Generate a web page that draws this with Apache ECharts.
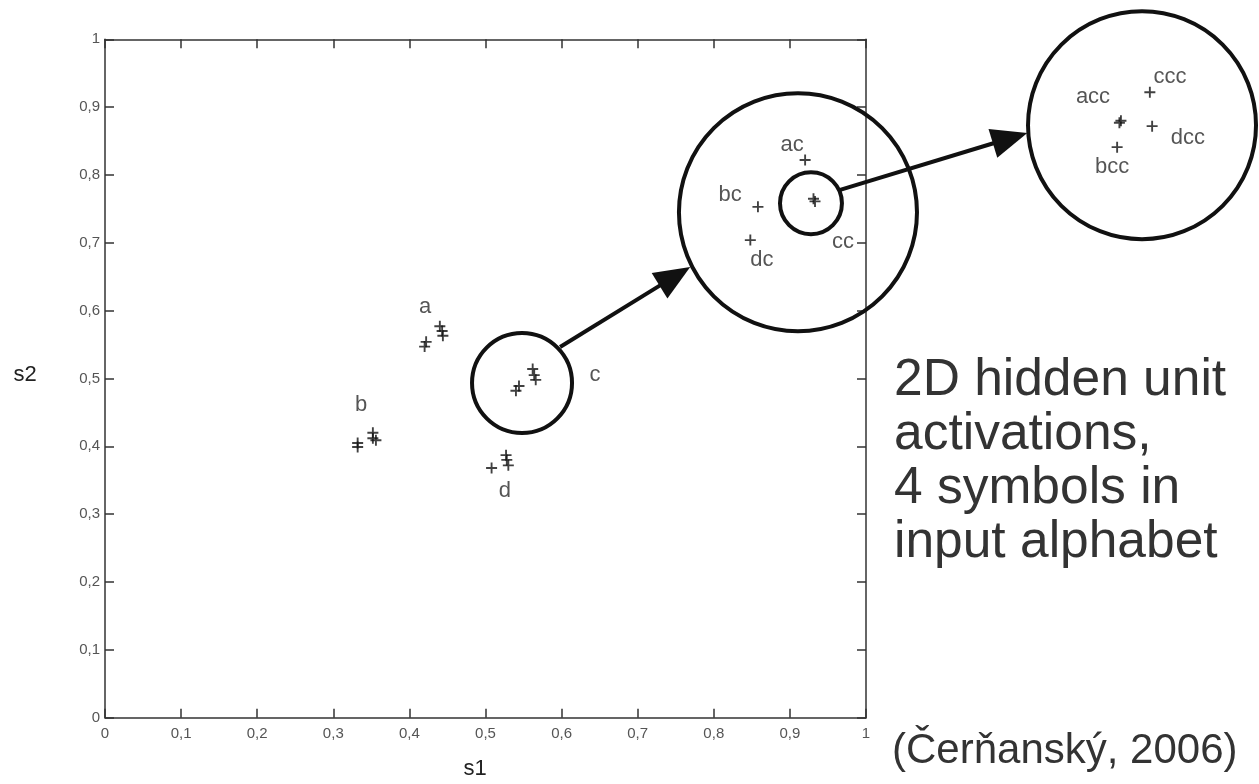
<!DOCTYPE html>
<html>
<head>
<meta charset="utf-8">
<script src="https://cdn.jsdelivr.net/npm/echarts@6/dist/echarts.min.js"></script>
<style>html,body{margin:0;padding:0;background:#fff}#c{width:1259px;height:784px}</style>
</head>
<body>
<div id="c"></div>
<script>
// ---- data ----
const clusterA = [[0.420,0.547],[0.422,0.554],[0.440,0.577],[0.443,0.570],[0.444,0.563]];
const clusterB = [[0.332,0.399],[0.332,0.405],[0.352,0.420],[0.352,0.412],[0.356,0.409]];
const clusterC = [[0.540,0.482],[0.544,0.489],[0.562,0.514],[0.564,0.505],[0.566,0.498]];
const clusterD = [[0.508,0.368],[0.527,0.387],[0.528,0.380],[0.530,0.372]];
const zoom1Points = [[0.920,0.822],[0.858,0.753],[0.848,0.704],[0.931,0.765],[0.933,0.761]];
const zoom2Points = [[1.373,0.922],[1.333,0.877],[1.335,0.880],[1.376,0.872],[1.330,0.841]];
const pointLabels = [
  ['a',0.4205,0.6051],['b',0.3364,0.4610],['c',0.6439,0.5052],['d',0.5256,0.3342],
  ['ac',0.9028,0.8442],['bc',0.8213,0.7705],['dc',0.8633,0.6747],['cc',0.9698,0.7012],
  ['ccc',1.3995,0.9444],['acc',1.2983,0.9149],['dcc',1.4231,0.8546],['bcc',1.3233,0.8119]
];
const circles = [[0.548,0.4934,0.0657],[0.9106,0.7451,0.1564],[0.9277,0.7584,0.0407],[1.3627,0.8734,0.1498]];
const arrows = [[0.598,0.5465,0.769,0.6645],[0.966,0.778,1.212,0.862]];
const axisMin = 0, axisMax = 1, tickStep = 0.1;
const xName = 's1', yName = 's2';
const noteLines = ['2D hidden unit','activations,','4 symbols in','input alphabet'];
const citation = '(Čerňanský, 2006)';

const FONT = "'Liberation Sans', Arial, Helvetica, sans-serif";
const fmt = v => (Math.abs(v) < 1e-9 ? '0' : Math.abs(v-1) < 1e-9 ? '1' : v.toFixed(1).replace('.', ','));
const cross = 'path://M-1,-0.17 L1,-0.17 L1,0.17 L-1,0.17 Z M-0.17,-1 L0.17,-1 L0.17,1 L-0.17,1 Z';

const axisCommon = {
  type: 'value', min: axisMin, max: axisMax, interval: tickStep,
  axisLine: {show: true, onZero: false, lineStyle: {color: '#333', width: 1.5}},
  axisTick: {show: true, inside: true, length: 9, lineStyle: {color: '#333', width: 1.5}},
  splitLine: {show: false}
};
const labelStyle = {color: '#555', fontSize: 15, fontFamily: FONT, formatter: fmt};

const chart = echarts.init(document.getElementById('c'), null, {renderer: 'canvas'});
const allPoints = [].concat(clusterA, clusterB, clusterC, clusterD, zoom1Points, zoom2Points);

chart.setOption({
  animation: false,
  backgroundColor: '#fff',
  grid: {left: 105, right: 393, top: 39.3, bottom: 66.3},
  xAxis: [
    Object.assign({}, axisCommon, {position: 'bottom', axisLabel: Object.assign({margin: 9}, labelStyle)}),
    Object.assign({}, axisCommon, {position: 'top', axisLabel: {show: false}})
  ],
  yAxis: [
    Object.assign({}, axisCommon, {position: 'left', axisLabel: Object.assign({margin: 5}, labelStyle)}),
    Object.assign({}, axisCommon, {position: 'right', axisLabel: {show: false}})
  ],
  series: [
    {
      type: 'custom', name: 'circles', clip: false, z: 3,
      data: circles,
      renderItem: function (params, api) {
        const c = api.coord([api.value(0), api.value(1)]);
        const r = api.size([api.value(2), 0])[0];
        return {type: 'circle', shape: {cx: c[0], cy: c[1], r: r},
          style: {fill: 'none', stroke: '#111', lineWidth: 4}};
      }
    },
    {
      type: 'custom', name: 'arrows', clip: false, z: 3,
      data: arrows,
      encode: {x: [0, 2], y: [1, 3]},
      renderItem: function (params, api) {
        const p1 = api.coord([api.value(0), api.value(1)]);
        const p2 = api.coord([api.value(2), api.value(3)]);
        const dx = p2[0]-p1[0], dy = p2[1]-p1[1], L = Math.hypot(dx, dy);
        const ux = dx/L, uy = dy/L, hl = 36, hw = 15;
        const b = [p2[0]-ux*hl, p2[1]-uy*hl];
        return {type: 'group', children: [
          {type: 'line', shape: {x1: p1[0], y1: p1[1], x2: b[0]+ux*4, y2: b[1]+uy*4},
            style: {stroke: '#111', lineWidth: 4}},
          {type: 'polygon', shape: {points: [p2, [b[0]-uy*hw, b[1]+ux*hw], [b[0]+uy*hw, b[1]-ux*hw]]},
            style: {fill: '#111'}}
        ]};
      }
    },
    {
      type: 'scatter', name: 'points', clip: false, z: 4,
      symbol: cross, symbolSize: 11,
      itemStyle: {color: '#111'},
      data: allPoints
    },
    {
      type: 'scatter', name: 'labels', clip: false, z: 4,
      symbolSize: 1, itemStyle: {color: 'rgba(0,0,0,0)'},
      label: {show: true, position: 'inside', formatter: p => p.data.name,
        fontSize: 22, fontFamily: FONT, color: '#2a2a2a'},
      data: pointLabels.map(d => ({name: d[0], value: [d[1], d[2]]}))
    }
  ],
  graphic: [
    {type: 'text', x: 25, y: 375, style: {text: yName, align: 'center', verticalAlign: 'middle', font: '22px ' + FONT, fill: '#222'}},
    {type: 'text', x: 475, y: 769, style: {text: xName, align: 'center', verticalAlign: 'middle', font: '22px ' + FONT, fill: '#222'}}
  ].concat(noteLines.map((t, i) => ({
    type: 'text', x: 894, y: 380.5 + i*54,
    style: {text: t, align: 'left', verticalAlign: 'middle', font: '51.5px ' + FONT, fill: '#333'}
  }))).concat([
    {type: 'text', x: 892, y: 751, style: {text: citation, align: 'left', verticalAlign: 'middle', font: '42px ' + FONT, fill: '#333'}}
  ])
});
</script>
</body>
</html>
